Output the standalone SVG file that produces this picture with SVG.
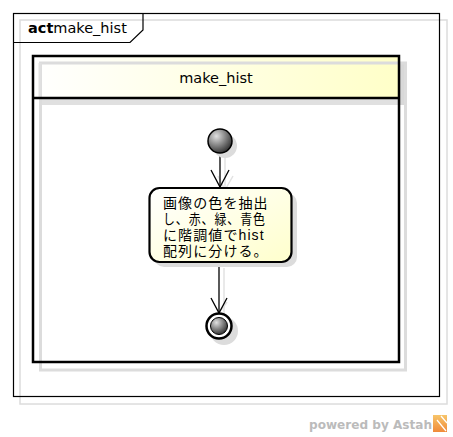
<svg xmlns="http://www.w3.org/2000/svg" width="453" height="437" viewBox="0 0 453 437">
<style>
.blk{fill:none;stroke:#000}
.shd{fill:none;stroke:#dcdcdc}
.t{font-family:"DejaVu Sans","Liberation Sans",sans-serif;font-size:14.5px;fill:#000}
.jp{font-family:"Liberation Sans","Noto Sans CJK JP",sans-serif;font-size:14px;letter-spacing:1.1px;fill:#000}
</style>
<defs>
<linearGradient id="hdr" x1="0" y1="0" x2="1" y2="0">
<stop offset="0" stop-color="#ffffff"/>
<stop offset="1" stop-color="#ffffc8"/>
</linearGradient>
<linearGradient id="act" x1="0" y1="0" x2="1" y2="1">
<stop offset="0" stop-color="#ffffff"/>
<stop offset="1" stop-color="#ffffcc"/>
</linearGradient>
<radialGradient id="ball" cx="0.35" cy="0.3" r="0.8">
<stop offset="0" stop-color="#e0e0e0"/>
<stop offset="1" stop-color="#222"/>
</radialGradient>
<linearGradient id="logo" x1="0" y1="0" x2="0" y2="1">
<stop offset="0" stop-color="#f7c56a"/>
<stop offset="1" stop-color="#f08a3a"/>
</linearGradient>
</defs>
<rect width="453" height="437" fill="#fff"/>

<g id="frame">
<rect x="20" y="20" width="427" height="384" class="shd" stroke-width="1.5"/>
<rect x="13.5" y="13.5" width="426" height="383" class="blk" stroke-width="1.2"/>
<path d="M13.5 42.5 H130 L143 30 V13.5" class="blk" stroke-width="1.2"/>
<text x="28" y="33" class="t"><tspan font-weight="bold">act</tspan>make_hist</text>
</g>

<g id="partition">
<rect x="33" y="56" width="366" height="306" fill="#fff"/>
<rect x="33" y="56" width="366" height="42" fill="url(#hdr)"/>
<rect x="399" y="63" width="7" height="42" fill="#d8d8d8"/>
<rect x="40" y="99" width="359" height="6" fill="#e0e0e0"/>
<rect x="40.5" y="63" width="365" height="307" class="shd" stroke-width="3"/>
<line x1="40" y1="63" x2="40" y2="98" stroke="#e0e0e0" stroke-width="3"/>
<rect x="33" y="56" width="366" height="306" class="blk" stroke-width="2.5"/>
<line x1="33" y1="98" x2="399" y2="98" stroke="#000" stroke-width="2.5"/>
<text x="216" y="83" class="t" text-anchor="middle">make_hist</text>
</g>

<g id="connectors">
<g stroke="#e2e2e2" stroke-width="1.5" fill="none">
<line x1="225" y1="158" x2="225" y2="190"/>
<path d="M218 176 L225 190 L233 176"/>
<line x1="224" y1="268" x2="224" y2="316"/>
<path d="M221 310 L227 302"/>
</g>
<g stroke="#000" stroke-width="1.3" fill="none">
<line x1="220" y1="153" x2="220" y2="187"/>
<path d="M211 170 L220 187 L229 170"/>
<line x1="219" y1="262" x2="219" y2="313"/>
<path d="M211 298 L219 313 L227 298"/>
</g>
</g>

<g id="initial">
<circle cx="225" cy="146" r="12" fill="#dcdcdc"/>
<circle cx="220" cy="141" r="12" fill="url(#ball)" stroke="#000" stroke-width="1.5"/>
</g>

<g id="action">
<rect x="154" y="193" width="143" height="74" rx="10" fill="#dcdcdc"/>
<rect x="149.5" y="188" width="142" height="74" rx="10" fill="url(#act)" stroke="#000" stroke-width="2.2"/>
<text class="jp" x="163" y="207.5">画像の色を抽出</text>
<text class="jp" x="163" y="223.5" textLength="103" lengthAdjust="spacingAndGlyphs">し、赤、緑、青色</text>
<text class="jp" x="163" y="239.5">に階調値でhist</text>
<text class="jp" x="163" y="255.5">配列に分ける。</text>
</g>

<g id="final">
<circle cx="224" cy="331" r="14" fill="#dcdcdc"/>
<circle cx="219" cy="326" r="12.5" fill="#fff" stroke="#000" stroke-width="2.5"/>
<circle cx="219" cy="326" r="8.5" fill="url(#ball)" stroke="#000" stroke-width="1"/>
</g>

<g id="watermark">
<text x="309" y="429" font-family="DejaVu Sans,Verdana,sans-serif" font-weight="bold" font-size="11.6" fill="#bbbbbb" textLength="123" lengthAdjust="spacingAndGlyphs">powered by Astah</text>
<rect x="433" y="415" width="14" height="17" fill="url(#logo)"/>
<path d="M437 420 L446 431 M441 416 L447 423" stroke="#fff" stroke-width="1.2" fill="none"/>
</g>
</svg>
